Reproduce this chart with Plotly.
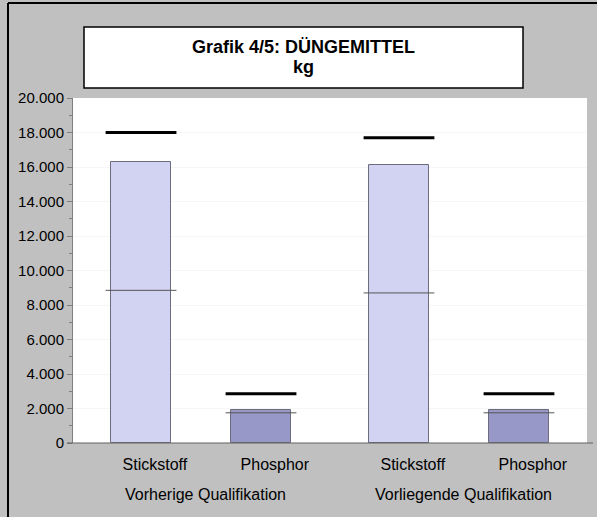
import plotly.graph_objects as go

# ---- data ----
groups = ["Vorherige Qualifikation", "Vorliegende Qualifikation"]
categories = ["Stickstoff", "Phosphor"]
bar_values = [16300, 1900, 16100, 1900]        # bars (group-major order)
upper_marks = [18000, 2850, 17700, 2850]       # thick black marks
middle_marks = [8850, 1750, 8700, 1750]        # thin grey marks
y_ticks = [0, 2000, 4000, 6000, 8000, 10000, 12000, 14000, 16000, 18000, 20000]
title_lines = ["Grafik 4/5: DÜNGEMITTEL", "kg"]

# ---- layout geometry ----
W, H = 597, 517
L, R, T, B = 73, 10, 98, 74
PW, PH = W - L - R, H - T - B
GROUP_GAP = 0.15
x_pos = []
x_lab = []
for g in range(len(groups)):
    for i, c in enumerate(categories):
        x_pos.append(g * len(categories) + i + g * GROUP_GAP)
        x_lab.append(c)
x_min = -0.567
x_max = x_pos[-1] + 0.567
LABEL_SHIFT = 0.115   # category labels sit slightly right of bar centres

bar_colors = ["#d2d2f2", "#9898c8"] * len(groups)
FONT = "Liberation Sans, Arial, sans-serif"

def px_x(p):
    return (p - L) / PW

def px_y(p):
    return (H - B - p) / PH

fig = go.Figure()
fig.add_trace(go.Bar(
    x=x_pos, y=bar_values, width=0.5,
    marker=dict(color=bar_colors, line=dict(color="#6c6c7c", width=1)),
    showlegend=False, hoverinfo="y",
))

half = 0.295
def seg(vals):
    xs, ys = [], []
    for xp, v in zip(x_pos, vals):
        xs += [xp - half, xp + half, None]
        ys += [v, v, None]
    return xs, ys

xs, ys = seg(middle_marks)
fig.add_trace(go.Scatter(x=xs, y=ys, mode="lines",
                         line=dict(color="#555555", width=1),
                         showlegend=False, hoverinfo="skip"))
xs, ys = seg(upper_marks)
fig.add_trace(go.Scatter(x=xs, y=ys, mode="lines",
                         line=dict(color="#000000", width=3),
                         showlegend=False, hoverinfo="skip"))

# group labels
n = len(categories)
for g, name in enumerate(groups):
    cx = sum(x_pos[g * n:(g + 1) * n]) / n + 0.04
    fig.add_annotation(x=cx, xref="x", y=px_y(494), yref="paper",
                       text=name, showarrow=False,
                       font=dict(family=FONT, size=16, color="#000000"),
                       xanchor="center", yanchor="middle")

# title box
fig.add_shape(type="rect", xref="paper", yref="paper",
              x0=px_x(84), x1=px_x(523), y0=px_y(88), y1=px_y(27),
              fillcolor="#ffffff", line=dict(color="#000000", width=1.5),
              layer="above")
for line_text, ypix in zip(title_lines, [47, 67]):
    fig.add_annotation(x=px_x(303.5), xref="paper", y=px_y(ypix), yref="paper",
                       text="<b>" + line_text + "</b>",
                       showarrow=False, align="center",
                       font=dict(family=FONT, size=18, color="#000000"),
                       xanchor="center", yanchor="middle")

# outer frame (left and top edges)
fig.add_shape(type="line", xref="paper", yref="paper",
              x0=px_x(8), x1=px_x(8), y0=px_y(3), y1=px_y(530),
              line=dict(color="#000000", width=2), layer="above")
fig.add_shape(type="line", xref="paper", yref="paper",
              x0=px_x(8), x1=px_x(610), y0=px_y(3), y1=px_y(3),
              line=dict(color="#000000", width=2), layer="above")
# baseline extension
fig.add_shape(type="line", xref="paper", yref="paper",
              x0=px_x(67), x1=px_x(593), y0=0, y1=0,
              line=dict(color="#606060", width=1), layer="above")

fig.update_layout(
    width=W, height=H,
    margin=dict(l=L, r=R, t=T, b=B, pad=0),
    paper_bgcolor="#c0c0c0",
    plot_bgcolor="#ffffff",
    separators=",.",
    font=dict(family=FONT, size=15, color="#000000"),
    bargap=0,
    xaxis=dict(range=[x_min, x_max],
               tickvals=[p + LABEL_SHIFT for p in x_pos], ticktext=x_lab,
               ticks="", showgrid=False, zeroline=False,
               showline=False, ticklabelstandoff=10,
               tickfont=dict(family=FONT, size=16, color="#000000"),
               fixedrange=True),
    yaxis=dict(range=[0, 20000], tickvals=y_ticks, tickformat=",d",
               ticks="outside", ticklen=5, tickcolor="#808080",
               showline=True, linecolor="#808080", linewidth=1,
               showgrid=True, gridcolor="#f6f6f6", gridwidth=1,
               zeroline=False,
               minor=dict(dtick=1000, ticks="outside", ticklen=3,
                          tickcolor="#808080", showgrid=False),
               tickfont=dict(family=FONT, size=15, color="#000000"),
               fixedrange=True),
)

fig.write_html(
    "out.html",
    config={"displayModeBar": False},
    post_script="document.body.style.margin='0px';"
                "document.body.style.padding='0px';"
                "document.body.style.background='#c0c0c0';",
)
